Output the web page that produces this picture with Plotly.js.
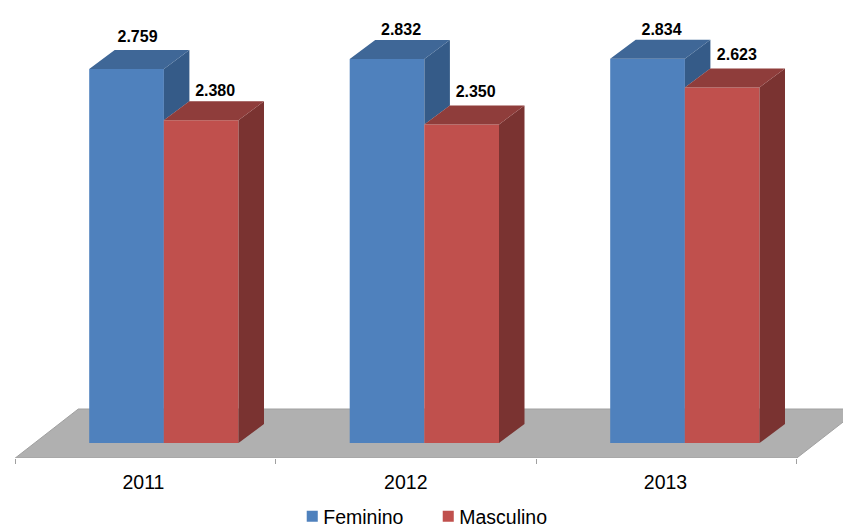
<!DOCTYPE html>
<html><head><meta charset="utf-8">
<script src="https://cdn.plot.ly/plotly-3.0.1.min.js"></script>
<style>html,body{margin:0;padding:0;background:#fff}</style></head>
<body><div id="chart" style="width:843px;height:528px"></div>
<script>
// Data
const years = ['2011', '2012', '2013'];
const feminino = [2759, 2832, 2834];
const masculino = [2380, 2350, 2623];
const serieNames = ['Feminino', 'Masculino'];

// Drawing geometry, in axis units
const W = 843, H = 528, plotBottom = 458;
const pxPerCat = 260.5, pxPerVal = 0.13556;
const zeroPx = 443;
const barW = 74.7 / pxPerCat;
const offF = -19 / pxPerCat, offM = 55.6 / pxPerCat;
const depthX = 25.5 / pxPerCat, depthV = 19 / pxPerVal;
const xRange = [-0.5 - 15.3 / pxPerCat, 2.5 + (W - 796.8) / pxPerCat];
const yRange = [-(plotBottom - zeroPx) / pxPerVal, zeroPx / pxPerVal];
const floorV = yRange[0];
const floorDepthX = 63 / pxPerCat, floorDepthV = 49 / pxPerVal;
const labelShiftX = [[11, 14, 14], [14, 14, 14.7]];
const labelShiftY = [[31, 28, 28], [28, 31, 31]];

const fmt = v => { const s = String(v); return s.slice(0, -3) + '.' + s.slice(-3); };
const blue = '#4f81bd', red = '#c0504d';

function faceTrace(xs, ys, color) {
  return {type:'scatter', mode:'lines', x:xs, y:ys, fill:'toself', fillcolor:color,
          line:{width:0, color:color}, hoverinfo:'skip', showlegend:false};
}
function poly(list) {
  const xs = [], ys = [];
  list.forEach(p => { p.forEach(q => { xs.push(q[0]); ys.push(q[1]); });
    xs.push(p[0][0]); ys.push(p[0][1]); xs.push(null); ys.push(null); });
  return [xs, ys];
}
const topF = [], sideF = [], topM = [], sideM = [];
years.forEach((_, i) => {
  const fL = i + offF - barW / 2, fR = i + offF + barW / 2;
  const mL = i + offM - barW / 2, mR = i + offM + barW / 2;
  const f = feminino[i], m = masculino[i];
  topF.push([[fL, f], [fR, f], [fR + depthX, f + depthV], [fL + depthX, f + depthV]]);
  sideF.push([[fR, f], [fR + depthX, f + depthV], [fR + depthX, m + depthV], [fR, m]]);
  topM.push([[mL, m], [mR, m], [mR + depthX, m + depthV], [mL + depthX, m + depthV]]);
  sideM.push([[mR, m], [mR + depthX, m + depthV], [mR + depthX, depthV], [mR, 0]]);
});

const traces = [
  {type:'bar', name:serieNames[0], x:years.map((_, i) => i + offF), y:feminino, width:barW,
   marker:{color:blue, line:{width:0}}, hoverinfo:'name+y'},
  {type:'bar', name:serieNames[1], x:years.map((_, i) => i + offM), y:masculino, width:barW,
   marker:{color:red, line:{width:0}}, hoverinfo:'name+y'},
  faceTrace(...poly(sideF), '#355b88'),
  faceTrace(...poly(topF), '#3f6797'),
  faceTrace(...poly(sideM), '#7a3331'),
  faceTrace(...poly(topM), '#8f3d3b'),
  {type:'scatter', mode:'text', showlegend:false, hoverinfo:'skip', cliponaxis:false,
   x:years.map((_, i) => i + offF + labelShiftX[0][i] / pxPerCat).concat(years.map((_, i) => i + offM + labelShiftX[1][i] / pxPerCat)),
   y:feminino.map((v, i) => v + labelShiftY[0][i] / pxPerVal).concat(masculino.map((v, i) => v + labelShiftY[1][i] / pxPerVal)),
   text:feminino.concat(masculino).map(fmt),
   textposition:'middle center',
   textfont:{family:'"Liberation Sans", Arial, sans-serif', size:16, color:'#000', weight:'bold'}}
];

const floorPath = 'M' + (-0.5) + ',' + floorV +
  'L' + (-0.5 + floorDepthX) + ',' + (floorV + floorDepthV) +
  'L' + (2.5 + floorDepthX) + ',' + (floorV + floorDepthV) +
  'L' + 2.5 + ',' + floorV + 'Z';

const layout = {
  width:W, height:H, paper_bgcolor:'#fff', plot_bgcolor:'#fff',
  margin:{l:0, r:0, t:0, b:H - plotBottom, pad:0},
  barmode:'overlay',
  showlegend:true,
  font:{family:'"Liberation Sans", Arial, sans-serif', color:'#000'},
  xaxis:{type:'linear', range:xRange, tickmode:'array', tickvals:[-0.008,0.999,1.996], ticktext:years,
         ticks:'', showgrid:false, zeroline:false, showline:false, fixedrange:true,
         tickfont:{size:19.5, color:'#000'}, ticklabelstandoff:10,
         minor:{tickmode:'array', tickvals:[-0.5,0.5,1.5,2.5], ticks:'outside', ticklen:5, tickcolor:'#a0a0a0', tickwidth:1, showgrid:false}},
  yaxis:{range:yRange, visible:false, fixedrange:true},
  shapes:[{type:'path', layer:'below', xref:'x', yref:'y', path:floorPath,
           fillcolor:'#b0b0b0', line:{color:'#a0a0a0', width:1}}],
  legend:{orientation:'h', x:0.336, xanchor:'left', y:0, yanchor:'bottom', yref:'container',
          font:{size:19.5, color:'#000'}, bgcolor:'rgba(0,0,0,0)', entrywidth:91, entrywidthmode:'pixels',
          itemclick:false, itemdoubleclick:false, borderwidth:0}
};

Plotly.newPlot('chart', traces, layout, {displayModeBar:false}).then(() => {
  // Tighten swatch-to-label gap and sit the legend on the bottom edge, as in the reference
  document.querySelectorAll('.legend .legendpoints path').forEach(p => {
    p.setAttribute('transform', 'translate(29,0) scale(0.92)');
  });
  const leg = document.querySelector('.legend');
  const m = /translate\(([-\d.]+)[ ,]+([-\d.]+)\)/.exec(leg.getAttribute('transform'));
  leg.setAttribute('transform', 'translate(' + m[1] + ',' + (parseFloat(m[2]) + 8) + ')');
});
</script></body></html>
